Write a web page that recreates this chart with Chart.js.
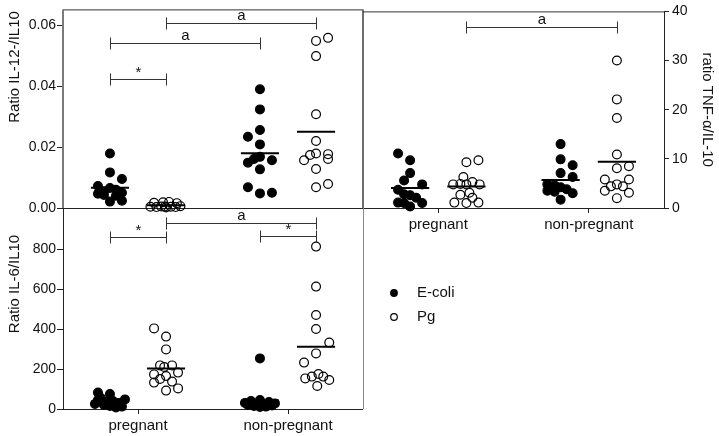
<!DOCTYPE html>
<html>
<head>
<meta charset="utf-8">
<script src="https://cdn.jsdelivr.net/npm/chart.js@4"></script>
<style>
    body { margin: 0; background: #fff; }
    #wrap { position: relative; width: 719px; height: 436px; }
    #wrap canvas { position: absolute; left: 0; top: 0; }
</style>
</head>
<body>
<div id="wrap">
    <canvas id="il12Chart" width="719" height="436"></canvas>
    <canvas id="tnfChart" width="719" height="436"></canvas>
    <canvas id="il6Chart" width="719" height="436"></canvas>
</div>
<script>
const groups = ['pregnant', 'non-pregnant'];
const seriesNames = ['E-coli', 'Pg'];

// Ratio IL-12/IL10
const il12EcoliPreg = [0.0179, 0.0117, 0.0095, 0.0072, 0.0066, 0.0060, 0.0055, 0.0050, 0.0047, 0.0043, 0.0040, 0.0024, 0.0021];
const il12EcoliNon = [0.0390, 0.0324, 0.0256, 0.0234, 0.0209, 0.0168, 0.0161, 0.0149, 0.0157, 0.0127, 0.0068, 0.0048, 0.0050];
const il12PgPreg = [0.0017, 0.0019, 0.0020, 0.0016, 0.0004, 0.0003, 0.0005, 0.0002, 0.0004, 0.0003, 0.0006, 0.0005];
const il12PgNon = [0.0549, 0.0559, 0.0499, 0.0308, 0.0220, 0.0174, 0.0179, 0.0157, 0.0177, 0.0161, 0.0128, 0.0068, 0.0079];
// sideways spread of the dots (in dot slots)
const il12EcoliPregJit = [0, 0, 2, -2, 0, 1, -1, 2, -2, -1, 1, 2, 0];
const il12EcoliNonJit = [0, 0, 0, -2, 0, 0, -1, -2, 2, 0, -2, 0, 2];
const il12PgPregJit = [-2, -0.5, 0.5, 1.8, -2.6, -1.6, -0.8, 0, 0.8, 1.6, 2.4, -0.2];
const il12PgNonJit = [0, 2, 0, 0, 0, -1, 0, -2, 2, 2, 0, 0, 2];
const il12Ticks = [0, 0.02, 0.04, 0.06];

// ratio TNF-a/IL-10
const tnfEcoliPreg = [11.1, 9.7, 7.1, 5.6, 4.8, 3.7, 2.8, 2.6, 2.1, 1.1, 1.0, 1.0, 0.3];
const tnfEcoliNon = [13.0, 9.9, 8.7, 7.1, 6.3, 4.8, 4.6, 4.2, 3.5, 3.8, 3.0, 3.3, 1.7];
const tnfPgPreg = [9.3, 9.7, 6.3, 4.8, 4.9, 5.3, 4.8, 4.8, 2.7, 3.1, 1.1, 1.0, 1.1, 2.1];
const tnfPgNon = [30.0, 22.1, 18.3, 10.9, 8.1, 8.5, 5.8, 4.8, 5.8, 3.5, 4.4, 4.4, 3.1, 2.0];
const tnfEcoliPregJit = [-2, 0, 0, -1, 2, -2, -1, 0, 1, -2, 2, -1, 0];
const tnfEcoliNonJit = [0, 0, 2, 0, 2, -2.2, -1, 0, -2.2, 1, 2, -1, 0];
const tnfPgPregJit = [0, 2, -0.5, -2.2, -1, 1, 2.2, 0, -1, 0.5, -2, 0, 2, 1];
const tnfPgNonJit = [0, 0, 0, 0, 0, 2, -2, 0, 2, -2, -1, 1, 2, 0];
const tnfTicks = [0, 10, 20, 30, 40];

// Ratio IL-6/IL10
const il6EcoliPreg = [82, 75, 55, 48, 45, 40, 35, 30, 25, 20, 15, 12, 8];
const il6EcoliNon = [253, 45, 40, 35, 30, 28, 25, 22, 20, 18, 15, 12, 10];
const il6PgPreg = [403, 362, 298, 218, 218, 210, 173, 165, 182, 150, 132, 137, 92, 103];
const il6PgNon = [812, 612, 470, 400, 332, 278, 232, 153, 162, 175, 162, 145, 115];
const il6EcoliPregJit = [-2, 0, -1.5, 2.5, -2, 0.5, -0.5, 1.5, -2.5, -1, 0, 2, 1];
const il6EcoliNonJit = [0, 0, -1.5, 1.5, -2.5, 2.5, -0.5, 0.5, -2, 2, -1, 1, 0];
const il6PgPregJit = [-2, 0, 0, -1, 1, -0.3, -2, 0, 2, -1, -2, 1, 0, 2];
const il6PgNonJit = [0, 0, 0, 0, 2.2, 0, -2, -1.8, -0.7, 0.4, 1.2, 2.2, 0.2];
const il6Ticks = [0, 200, 400, 600, 800];

// significance bars: from/to = [group, series]
const il12Brackets = [
    { text: 'a', from: [0, 1], to: [1, 1], y: 0.0607 },
    { text: 'a', from: [0, 0], to: [1, 0], y: 0.0541 },
    { text: '*', from: [0, 0], to: [0, 1], y: 0.0423 }
];
const tnfBrackets = [
    { text: 'a', from: [0, 1], to: [1, 1], y: 36.9 }
];
const il6Brackets = [
    { text: 'a', from: [0, 1], to: [1, 1], y: 930 },
    { text: '*', from: [0, 0], to: [0, 1], y: 860 },
    { text: '*', from: [1, 0], to: [1, 1], y: 865 }
];

const slot = 0.04;           // width of one jitter slot in x units
const seriesShift = [-0.187, 0.187];
const halfLine = 0.127;
const FONT = '"Liberation Sans", Arial, sans-serif';

Chart.defaults.font.family = FONT;
Chart.defaults.color = '#111';

function mean(a) {
    return a.reduce((p, c) => p + c, 0) / a.length;
}

function groupX(g, s) {
    return g + seriesShift[s];
}

function buildDatasets(ecoli, ecoliJit, pg, pgJit) {
    let out = [];
    [[ecoli, ecoliJit], [pg, pgJit]].forEach(([ser, jit], s) => {
        let pts = [];
        ser.forEach((vals, g) => {
            vals.forEach((v, i) => pts.push({ x: groupX(g, s) + jit[g][i] * slot, y: v }));
            let m = mean(vals);
            out.push({
                type: 'line',
                data: [{ x: groupX(g, s) - halfLine, y: m }, { x: groupX(g, s) + halfLine, y: m }],
                borderColor: '#000',
                borderWidth: 2,
                pointRadius: 0,
                order: 0
            });
        });
        out.push({
            label: seriesNames[s],
            data: pts,
            showLine: false,
            pointRadius: 4.4,
            pointBackgroundColor: s ? 'rgba(255,255,255,0)' : '#000',
            pointBorderColor: '#000',
            pointBorderWidth: 1.2,
            clip: false,
            order: 1
        });
    });
    return out;
}

const frame = {
    id: 'frame',
    beforeDatasetsDraw(chart, args, o) {
        const a = chart.chartArea, ctx = chart.ctx;
        const line = (s, x1, y1, x2, y2) => {
            if (!s) return;
            const h = s[1] % 2 ? 0.5 : 0;
            ctx.save();
            ctx.strokeStyle = s[0];
            ctx.lineWidth = s[1];
            ctx.beginPath();
            if (y1 === y2) {
                ctx.moveTo(x1, y1 + h); ctx.lineTo(x2, y2 + h);
            } else {
                ctx.moveTo(x1 + h, y1); ctx.lineTo(x2 + h, y2);
            }
            ctx.stroke();
            ctx.restore();
        };
        line(o.top, a.left, a.top, a.right, a.top);
        line(o.bottom, a.left, a.bottom, a.right, a.bottom);
        line(o.left, a.left, a.top, a.left, a.bottom);
        line(o.right, a.right, a.top, a.right, a.bottom);
    }
};

const brackets = {
    id: 'brackets',
    afterDatasetsDraw(chart, args, o) {
        if (!o.list) return;
        const ctx = chart.ctx, xs = chart.scales.x, ys = chart.scales.y;
        ctx.save();
        ctx.strokeStyle = '#333';
        ctx.lineWidth = 1;
        ctx.fillStyle = '#111';
        ctx.font = '15px ' + FONT;
        ctx.textAlign = 'center';
        ctx.textBaseline = 'alphabetic';
        o.list.forEach(b => {
            const x1 = Math.round(xs.getPixelForValue(groupX(b.from[0], b.from[1]))) + 0.5;
            const x2 = Math.round(xs.getPixelForValue(groupX(b.to[0], b.to[1]))) + 0.5;
            const y = Math.round(ys.getPixelForValue(b.y)) + 0.5;
            ctx.beginPath();
            ctx.moveTo(x1, y); ctx.lineTo(x2, y);
            ctx.moveTo(x1, y - 6); ctx.lineTo(x1, y + 6);
            ctx.moveTo(x2, y - 6); ctx.lineTo(x2, y + 6);
            ctx.stroke();
            ctx.fillText(b.text, (x1 + x2) / 2, b.text === '*' ? y - 3 : y - 4);
        });
        ctx.restore();
    }
};

const sideTitle = {
    id: 'sideTitle',
    afterDraw(chart, args, o) {
        if (!o.text) return;
        const ctx = chart.ctx;
        ctx.save();
        ctx.translate(o.x, o.y);
        ctx.rotate(-Math.PI / 2);
        ctx.font = '15px ' + FONT;
        ctx.fillStyle = '#111';
        ctx.textAlign = 'center';
        ctx.textBaseline = 'middle';
        ctx.fillText(o.text, 0, 0);
        ctx.restore();
    }
};

const keyBox = {
    id: 'keyBox',
    afterDraw(chart, args, o) {
        if (!o.show) return;
        const ctx = chart.ctx;
        ctx.save();
        ctx.font = '15px ' + FONT;
        ctx.textBaseline = 'middle';
        seriesNames.forEach((name, i) => {
            const y = o.y + i * o.gap;
            ctx.beginPath();
            ctx.arc(o.x, y, 3.3, 0, Math.PI * 2);
            ctx.lineWidth = 1.2;
            ctx.strokeStyle = '#000';
            if (i === 0) { ctx.fillStyle = '#000'; ctx.fill(); }
            ctx.stroke();
            ctx.fillStyle = '#111';
            ctx.fillText(name, o.x + 23, y);
        });
        ctx.restore();
    }
};

Chart.register(frame, brackets, sideTitle, keyBox);

function xAxis(show, height) {
    return {
        type: 'linear', min: -0.5, max: 1.5, display: show,
        afterBuildTicks: s => { s.ticks = groups.map((g, i) => ({ value: i })); },
        afterFit: s => { s.height = height; },
        grid: { drawOnChartArea: false, tickLength: 5, color: '#222' },
        border: { display: false },
        ticks: {
            autoSkip: false, maxRotation: 0, minRotation: 0, padding: 3,
            font: { size: 15 },
            callback: (v, i) => groups[i]
        }
    };
}

function yAxis(pos, max, tickVals, fmt, width, title) {
    return {
        type: 'linear', position: pos, min: 0, max: max,
        afterBuildTicks: s => { s.ticks = tickVals.map(v => ({ value: v })); },
        afterFit: s => { s.width = width; },
        grid: { drawOnChartArea: false, tickLength: pos === 'left' ? 6 : 5, color: '#222' },
        border: { display: false },
        ticks: { padding: pos === 'left' ? 1 : 3, font: { size: 14 }, callback: fmt },
        title: title ? { display: true, text: title, font: { size: 15 }, padding: { top: 3, bottom: 0 } } : { display: false }
    };
}

function panel(id, pad, xOpts, yOpts, datasets, plug) {
    return new Chart(document.getElementById(id), {
        type: 'scatter',
        data: { datasets: datasets },
        options: {
            responsive: false,
            animation: false,
            devicePixelRatio: 1,
            events: [],
            layout: { padding: pad },
            plugins: Object.assign({ legend: { display: false }, tooltip: { enabled: false } }, plug),
            scales: { x: xOpts, y: yOpts }
        }
    });
}

panel('il12Chart',
    { left: 0, top: 9, right: 356, bottom: 228 },
    xAxis(false, 0),
    yAxis('left', 0.06525, il12Ticks, v => v.toFixed(2), 63),
    buildDatasets([il12EcoliPreg, il12EcoliNon], [il12EcoliPregJit, il12EcoliNonJit],
                  [il12PgPreg, il12PgNon], [il12PgPregJit, il12PgNonJit]),
    {
        frame: { top: ['#333', 1], right: ['#6e6e6e', 2], bottom: ['#222', 1], left: ['#7a7a7a', 2] },
        brackets: { list: il12Brackets },
        sideTitle: { text: 'Ratio IL-12-/IL10', x: 15, y: 67 }
    });

panel('tnfChart',
    { left: 363, top: 9, right: 0, bottom: 198 },
    xAxis(true, 30),
    yAxis('right', 40, tnfTicks, v => String(v), 55, 'ratio TNF-\u03b1/IL-10'),
    buildDatasets([tnfEcoliPreg, tnfEcoliNon], [tnfEcoliPregJit, tnfEcoliNonJit],
                  [tnfPgPreg, tnfPgNon], [tnfPgPregJit, tnfPgNonJit]),
    {
        frame: { top: ['#333', 1], right: ['#222', 1], bottom: ['#222', 1] },
        brackets: { list: tnfBrackets }
    });

panel('il6Chart',
    { left: 0, top: 208, right: 356, bottom: 0 },
    xAxis(true, 27),
    yAxis('left', 1005, il6Ticks, v => String(v), 63),
    buildDatasets([il6EcoliPreg, il6EcoliNon], [il6EcoliPregJit, il6EcoliNonJit],
                  [il6PgPreg, il6PgNon], [il6PgPregJit, il6PgNonJit]),
    {
        frame: { left: ['#222', 1], bottom: ['#222', 1], right: ['#888', 1] },
        brackets: { list: il6Brackets },
        sideTitle: { text: 'Ratio IL-6/IL10', x: 15, y: 284 },
        keyBox: { show: true, x: 394, y: 293, gap: 24 }
    });
</script>
</body>
</html>
